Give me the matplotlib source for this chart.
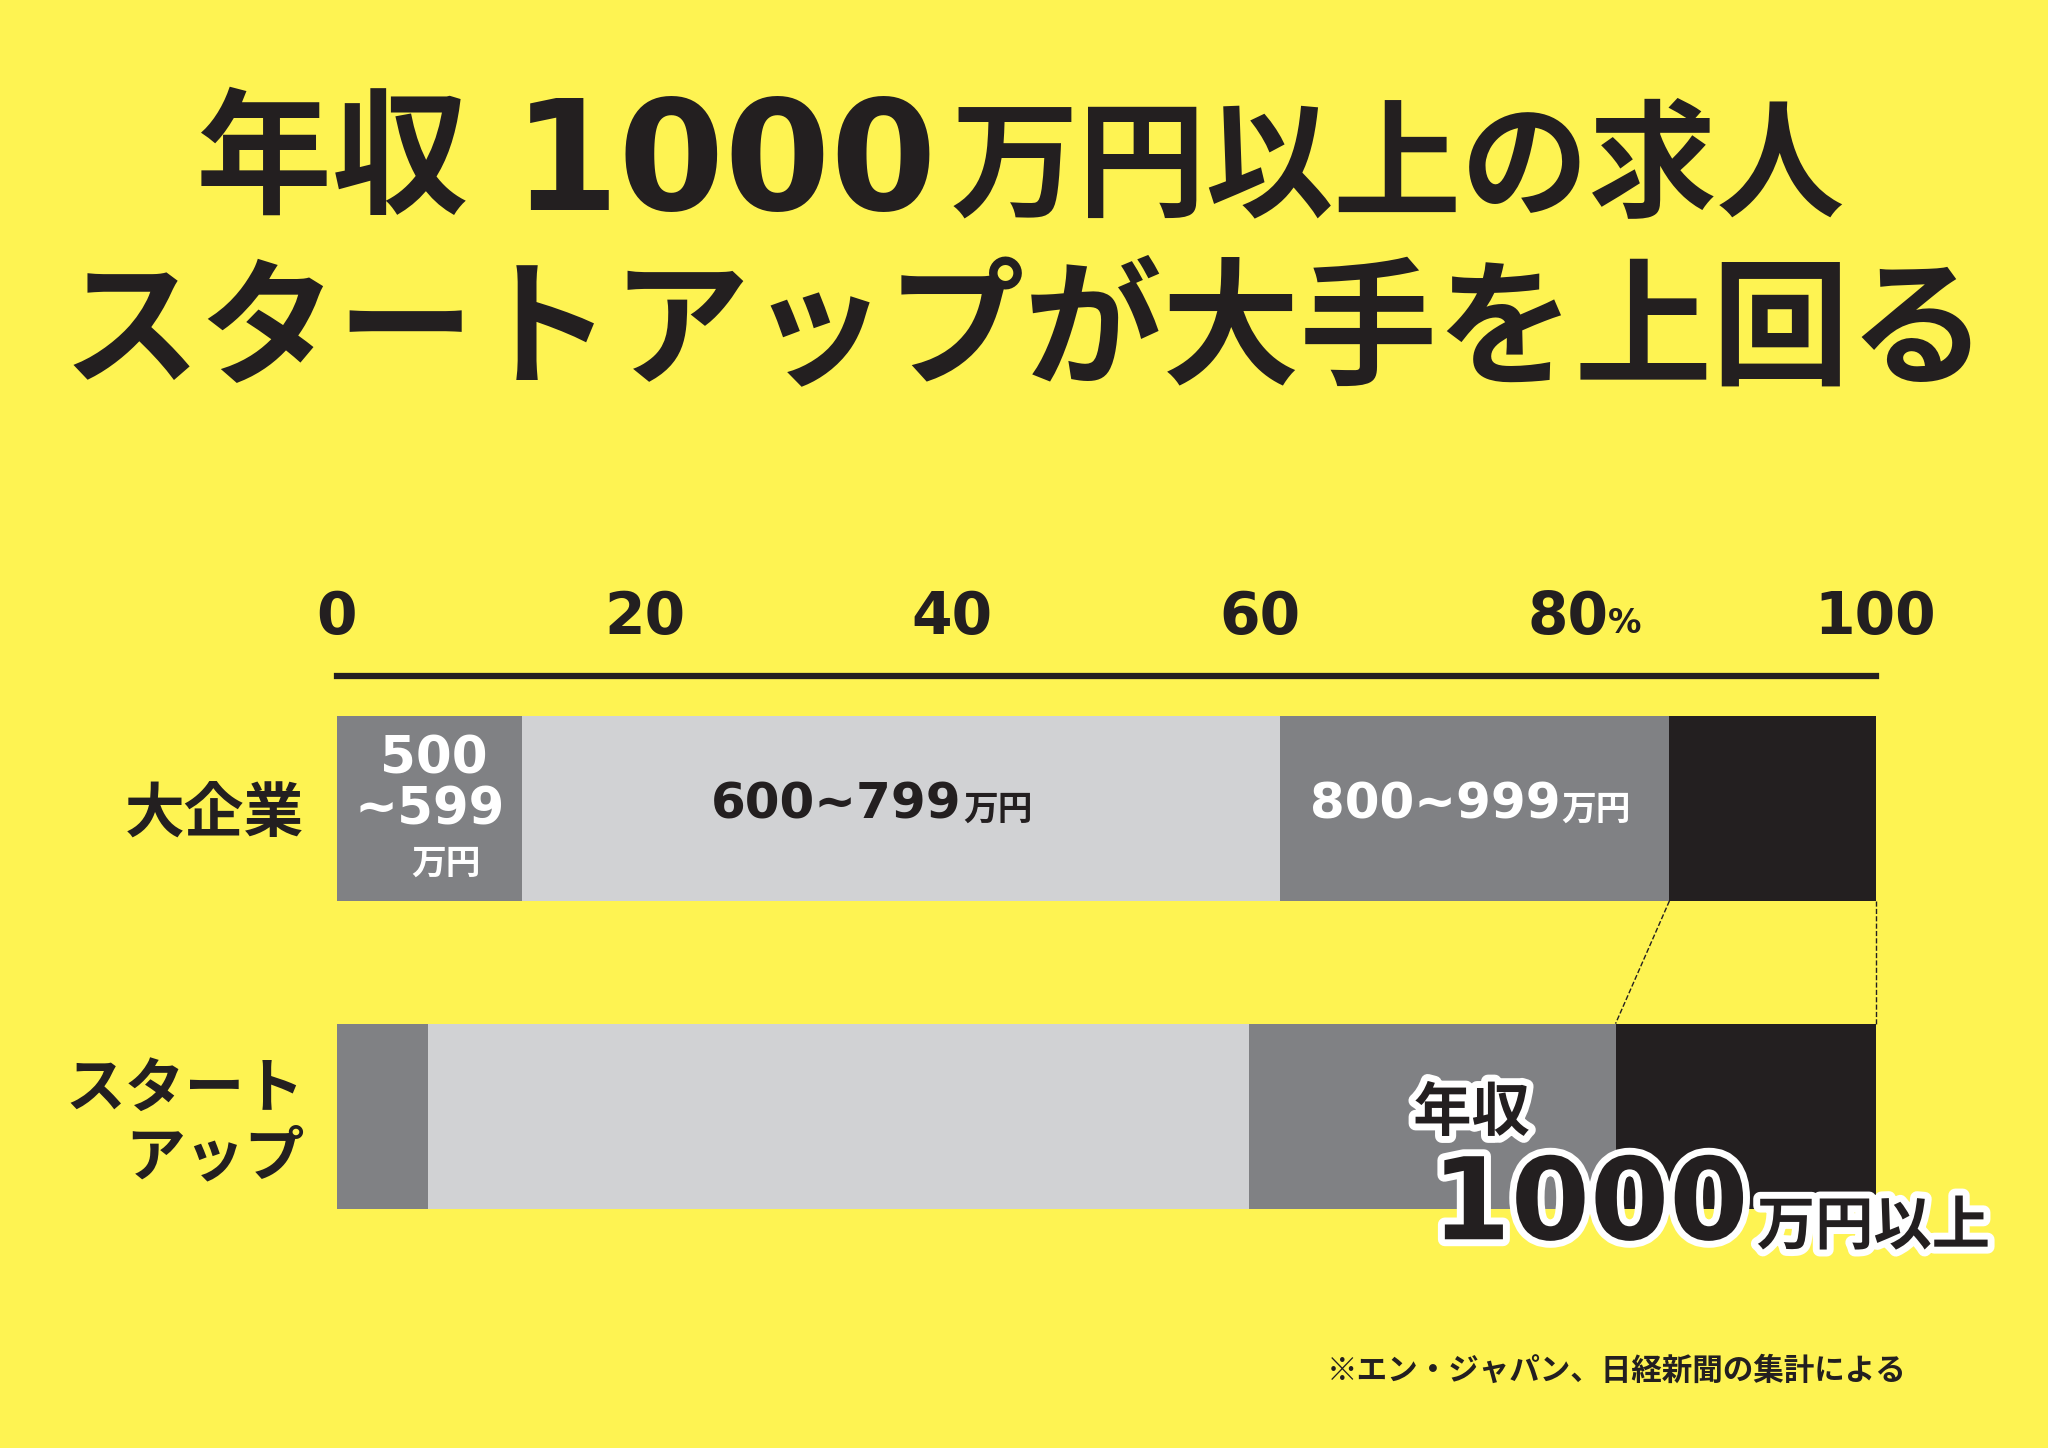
import matplotlib.pyplot as plt
import matplotlib.patheffects as pe
import numpy as np

plt.rcParams['font.family'] = ['Noto Sans CJK JP', 'DejaVu Sans']

# data (% share of job offers by annual salary band)
categories = ['大企業', 'スタート\nアップ']
bands = ['500~599万円', '600~799万円', '800~999万円', '1000万円以上']
large_corp = [12.0, 49.3, 25.3, 13.4]
startup = [5.9, 53.4, 23.8, 16.9]
tick_values = [0, 20, 40, 60, 80, 100]
tick_labels = ['0', '20', '40', '60', '80', '100']

BG = '#FEF352'
INK = '#231F20'
colors = ['#808184', '#D1D2D4', '#808184', INK]
NUM = 'DejaVu Sans'

W, H = 1568, 1109  # reference layout units


def fx(px):
    return px / W


def fy(py):
    return 1 - py / H


fig = plt.figure(figsize=(20.48, 14.48), dpi=100, facecolor=BG)

# title
fig.text(fx(150), fy(125), '年収', ha='left', va='center',
         fontsize=98, fontweight='bold', color=INK)
fig.text(fx(718), fy(128), '1000', ha='right', va='center', family=NUM,
         fontsize=110, fontweight='bold', color=INK)
fig.text(fx(728), fy(130), '万円以上の求人', ha='left', va='center',
         fontsize=92, fontweight='bold', color=INK)
fig.text(fx(785), fy(255), 'スタートアップが大手を上回る', ha='center', va='center',
         fontsize=99, fontweight='bold', color=INK)

ax = fig.add_axes([fx(258), fy(926), fx(1436) - fx(258), fy(518) - fy(926)])
ax.set_facecolor(BG)
ypos = np.arange(len(categories))
h = 142 / 236
for y, row in zip(ypos, [large_corp, startup]):
    left = 0
    for v, c in zip(row, colors):
        ax.barh(y, v, left=left, height=h, color=c, linewidth=0)
        left += v

ax.set_xlim(0, 100)
ax.set_ylim(ypos[-1] + h / 2, -(619 - 518) / 236)
for s in ['left', 'right', 'bottom']:
    ax.spines[s].set_visible(False)
ax.spines['top'].set_linewidth(4.5)
ax.spines['top'].set_color(INK)
ax.set_yticks([])
ax.xaxis.tick_top()
ax.set_xticks(tick_values)
ax.set_xticklabels(tick_labels, fontsize=42, fontweight='bold', color=INK,
                   family=NUM)
ax.tick_params(axis='x', length=0, pad=22)


def yd(py):
    return (py - 619) / 236


ax.text(80 + 2.6, yd(490), '%', fontsize=24, fontweight='bold', color=INK,
        ha='left', va='bottom', family=NUM)

# dashed connectors to the 1000万円以上 segment
cum_l = np.cumsum(large_corp)
cum_s = np.cumsum(startup)
ax.plot([cum_l[2], cum_s[2]], [0 + h / 2, 1 - h / 2], ls='--', lw=1, color=INK)
ax.plot([cum_l[3], cum_s[3]], [0 + h / 2, 1 - h / 2], ls='--', lw=1,
        color=INK, clip_on=False)

# segment labels on the large-corp bar
ax.text(6.3, yd(582), '500', ha='center', va='center', fontsize=37,
        fontweight='bold', color='white', family=NUM)
ax.text(6.0, yd(621), '~599', ha='center', va='center', fontsize=37,
        fontweight='bold', color='white', family=NUM)
ax.text(7.1, yd(661), '万円', ha='center', va='center', fontsize=25,
        fontweight='bold', color='white')
ax.text(40.6, yd(616), '600~799', ha='right', va='center', fontsize=36,
        fontweight='bold', color=INK, family=NUM)
ax.text(40.7, yd(620), '万円', ha='left', va='center', fontsize=25,
        fontweight='bold', color=INK)
ax.text(79.5, yd(616), '800~999', ha='right', va='center', fontsize=36,
        fontweight='bold', color='white', family=NUM)
ax.text(79.6, yd(620), '万円', ha='left', va='center', fontsize=25,
        fontweight='bold', color='white')

# category labels
fig.text(fx(233), fy(624), categories[0], ha='right', va='center',
         fontsize=43, fontweight='bold', color=INK)
fig.text(fx(233), fy(861), categories[1], ha='right', va='center',
         fontsize=43, fontweight='bold', color=INK, linespacing=1.2)

# callout
stroke = [pe.withStroke(linewidth=10, foreground='white')]
fig.text(fx(1082), fy(853), '年収', ha='left', va='center', fontsize=42,
         fontweight='bold', color=INK, path_effects=stroke)
fig.text(fx(1096), fy(925), '1000', ha='left', va='center', fontsize=82,
         fontweight='bold', color=INK, path_effects=stroke, family=NUM)
fig.text(fx(1345), fy(940), '万円以上', ha='left', va='center', fontsize=42,
         fontweight='bold', color=INK, path_effects=stroke)

fig.text(fx(1460), fy(1050), '※エン・ジャパン、日経新聞の集計による', ha='right',
         va='center', fontsize=22, fontweight='bold', color=INK)

fig.savefig('out.png', dpi=100, facecolor=BG)
